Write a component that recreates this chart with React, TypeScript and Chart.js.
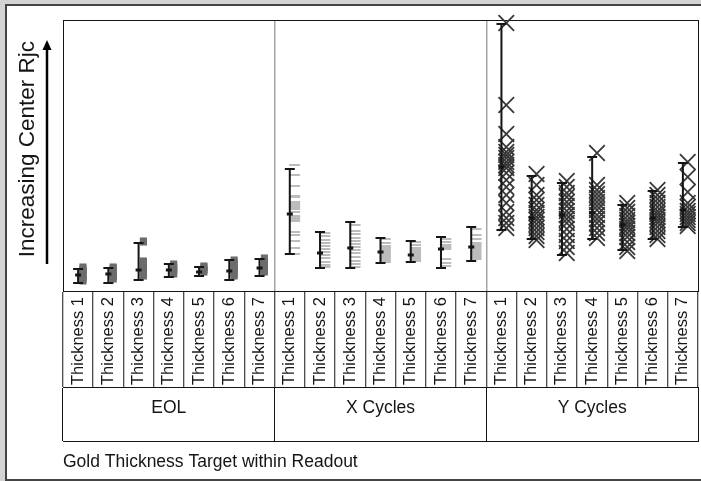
import React, { useEffect, useRef } from 'react';
import { Chart, registerables } from 'chart.js';

Chart.register(...registerables);

// ---------- data (arbitrary vertical units) ----------
const groupLabels = ['EOL', 'X Cycles', 'Y Cycles'];
const thicknessLabels = [
  'Thickness 1', 'Thickness 2', 'Thickness 3', 'Thickness 4',
  'Thickness 5', 'Thickness 6', 'Thickness 7',
];
const yAxisTitle = 'Increasing Center Rjc';
const xAxisTitle = 'Gold Thickness Target within Readout';

// range bars: min / mean / max per thickness
const eolMin = [8, 8, 11, 14, 15, 11, 15];
const eolMean = [16, 17, 21, 21, 19, 20, 23];
const eolMax = [22, 23, 48, 27, 24, 31, 32];

const xMin = [37, 23, 23, 28, 29, 23, 30];
const xMean = [77, 38, 43, 39, 36, 42, 44];
const xMax = [122, 59, 69, 53, 50, 54, 64];

const yMin = [61, 52, 36, 52, 41, 52, 64];
const yMean = [124, 73, 76, 78, 66, 73, 81];
const yMax = [267, 115, 108, 134, 86, 100, 128];

// individual readouts
const eolPoints = [
  [10, 12, 13, 15, 17, 19, 21, 22, 24],
  [12, 14, 15, 17, 19, 21, 23, 24],
  [15, 17, 19, 21, 23, 25, 27, 29, 30, 49, 50],
  [17, 19, 21, 23, 25, 27],
  [19, 21, 22, 24, 25],
  [15, 17, 20, 22, 24, 27, 29, 31],
  [19, 21, 23, 26, 28, 30, 33],
];
const xPoints = [
  [126, 116, 105, 95, 94, 89, 88, 86, 84, 82, 79, 75, 74, 72, 70, 59, 56, 50, 43, 37],
  [58, 55, 51, 48, 45, 42, 39, 36, 33, 29, 26, 24],
  [66, 60, 57, 53, 50, 47, 44, 41, 38, 34, 30, 27, 24],
  [52, 48, 45, 43, 41, 39, 37, 35, 33, 31, 29],
  [49, 46, 43, 41, 39, 37, 35, 33, 31, 30],
  [52, 49, 46, 44, 42, 32, 28, 25],
  [62, 56, 52, 48, 46, 44, 42, 40, 38, 36, 34, 32],
];
const yPoints = [
  [268, 186, 157, 144, 139, 136, 133, 129, 126, 123, 118, 111, 104, 96, 88, 79, 73, 68, 63],
  [117, 106, 96, 91, 86, 81, 78, 74, 71, 67, 63, 59, 55, 51],
  [110, 104, 98, 94, 89, 85, 80, 76, 72, 68, 62, 56, 50, 44, 38],
  [138, 106, 101, 97, 93, 89, 85, 81, 76, 72, 68, 63, 58, 53],
  [88, 83, 79, 75, 71, 68, 65, 62, 58, 54, 49, 44, 40],
  [101, 96, 92, 88, 84, 80, 77, 74, 71, 68, 64, 60, 56, 52],
  [129, 114, 99, 88, 84, 80, 77, 74, 71, 68, 65],
];

// ---------- styling constants ----------
const FONT = "'Liberation Sans', Arial, Helvetica, sans-serif";
const BAR_SHIFT = 0.5;
const MARK_SHIFT = 0.66;
const INK = '#151515';

Chart.defaults.font.family = FONT;

const axisNote = {
  id: 'axisNote',
  afterDraw(chart: any) {
    const { ctx, chartArea } = chart;
    const ax = chartArea.left - 16;
    const tip = chartArea.top + 20;
    ctx.save();
    ctx.strokeStyle = '#000';
    ctx.fillStyle = '#000';
    ctx.lineWidth = 2.5;
    ctx.beginPath();
    ctx.moveTo(ax, chartArea.bottom - 27);
    ctx.lineTo(ax, tip + 8);
    ctx.stroke();
    ctx.beginPath();
    ctx.moveTo(ax, tip);
    ctx.lineTo(ax - 4.5, tip + 10);
    ctx.lineTo(ax + 4.5, tip + 10);
    ctx.closePath();
    ctx.fill();
    ctx.translate(chartArea.left - 35, chartArea.top + 21);
    ctx.rotate(-Math.PI / 2);
    ctx.textAlign = 'right';
    ctx.textBaseline = 'middle';
    ctx.fillStyle = INK;
    ctx.font = `22.5px ${FONT}`;
    ctx.fillText(yAxisTitle, 0, 0);
    ctx.restore();
  },
};

const noSidePadding = (s: any) => {
  s.paddingLeft = 0;
  s.paddingRight = 0;
};

export default function App() {
  const ref = useRef<HTMLCanvasElement>(null);

  useEffect(() => {
    const mins = [eolMin, xMin, yMin];
    const means = [eolMean, xMean, yMean];
    const maxs = [eolMax, xMax, yMax];
    const barData: any[] = [];
    const capData: any[] = [];
    const meanData: any[] = [];
    for (let g = 0; g < 3; g++) {
      for (let i = 0; i < 7; i++) {
        const c = g * 7 + i + BAR_SHIFT;
        barData.push({ x: c, y: mins[g][i] }, { x: c, y: maxs[g][i] }, { x: c, y: null });
        capData.push({ x: c, y: mins[g][i] }, { x: c, y: maxs[g][i] });
        meanData.push({ x: c, y: means[g][i] });
      }
    }
    const marks = (pts: number[][], g: number) =>
      pts.flatMap((arr, i) => arr.map((v) => ({ x: g * 7 + i + MARK_SHIFT, y: v })));

    const chart = new Chart(ref.current as HTMLCanvasElement, {
      type: 'scatter',
      data: {
        datasets: [
          {
            label: 'caps', data: capData, pointStyle: 'line', pointRadius: 5,
            pointBorderWidth: 2, pointBorderColor: INK, order: 0,
          },
          {
            label: 'means', data: meanData, pointStyle: 'line', pointRadius: 3,
            pointBorderWidth: 3, pointBorderColor: INK, order: 0,
          },
          {
            label: 'range', data: barData, showLine: true, spanGaps: false,
            borderColor: INK, borderWidth: 2, pointRadius: 0, order: 1,
          },
          {
            label: 'EOL', data: marks(eolPoints, 0), pointStyle: 'rect', pointRadius: 5,
            pointBackgroundColor: '#6c6c6c', pointBorderWidth: 0, order: 5,
          },
          {
            label: 'X Cycles', data: marks(xPoints, 1), pointStyle: 'line', pointRadius: 5.5,
            pointBorderColor: '#bcbcbc', pointBorderWidth: 2, order: 5,
          },
          {
            label: 'Y Cycles', data: marks(yPoints, 2), pointStyle: 'crossRot', pointRadius: 11,
            pointBorderColor: '#383838', pointBorderWidth: 1.8, order: 5, clip: false,
          },
        ] as any,
      },
      options: {
        responsive: false,
        animation: false,
        devicePixelRatio: 1,
        events: [],
        layout: { autoPadding: false, padding: { left: 0, right: 3, top: 20, bottom: 0 } },
        plugins: { legend: { display: false }, tooltip: { enabled: false } },
        scales: {
          x: { type: 'linear', min: 0, max: 21, display: false },
          y: {
            type: 'linear', min: 0, max: 271, position: 'left',
            ticks: { display: false },
            grid: { display: true, color: 'transparent', drawTicks: false },
            border: { display: true, color: INK, width: 1 },
            afterFit: (s: any) => { s.width = 63; },
          },
          yr: {
            type: 'linear', axis: 'y', position: 'right',
            ticks: { display: false },
            grid: { display: true, drawOnChartArea: false, drawTicks: false },
            border: { display: true, color: INK, width: 1 },
            afterFit: (s: any) => { s.width = 0; },
          },
          xt: {
            type: 'linear', axis: 'x', position: 'top',
            ticks: { display: false },
            grid: { display: true, drawOnChartArea: false, drawTicks: false },
            border: { display: true, color: INK, width: 1 },
            afterFit: (s: any) => { s.height = 0; noSidePadding(s); },
          },
          xc: {
            type: 'category', axis: 'x', position: 'bottom',
            labels: thicknessLabels.concat(thicknessLabels, thicknessLabels),
            offset: true, weight: 1,
            grid: {
              display: true, offset: true, drawOnChartArea: true, drawTicks: true, tickLength: 96,
              color: (c: any) => (c.index === 7 || c.index === 14 ? '#a5a5a5' : 'transparent'),
              lineWidth: 1.5, tickColor: INK, tickWidth: 1,
            },
            border: { display: true, color: INK, width: 1 },
            ticks: {
              autoSkip: false, minRotation: 90, maxRotation: 90, padding: -90,
              color: INK, font: { size: 16.5, family: FONT },
            },
            afterFit: (s: any) => { s.height = 96; noSidePadding(s); },
          },
          xg: {
            type: 'category', axis: 'x', position: 'bottom', labels: groupLabels,
            offset: true, weight: 2,
            grid: {
              display: true, offset: true, drawOnChartArea: false, drawTicks: true, tickLength: 54,
              tickColor: INK, tickWidth: 1,
            },
            border: { display: true, color: INK, width: 1 },
            ticks: {
              autoSkip: false, minRotation: 0, maxRotation: 0, padding: -43,
              color: INK, font: { size: 17.5, family: FONT },
            },
            afterFit: (s: any) => { s.height = 54; noSidePadding(s); },
          },
          xtitle: {
            type: 'category', axis: 'x', position: 'bottom', labels: [''], weight: 3,
            grid: { display: true, drawOnChartArea: false, drawTicks: false, color: 'transparent' },
            border: { display: true, color: INK, width: 1 },
            ticks: { display: false },
            title: {
              display: true, text: xAxisTitle, align: 'start', color: INK,
              font: { size: 17.5, family: FONT }, padding: { top: 0, bottom: 8 },
            },
            afterFit: (s: any) => { s.height = 40; noSidePadding(s); },
          },
        } as any,
      },
      plugins: [axisNote],
    });
    return () => chart.destroy();
  }, []);

  return (
    <div style={{ position: 'fixed', left: 0, top: 0, width: 701, height: 481, background: '#d4d4d4', overflow: 'hidden' }}>
      <div style={{ position: 'absolute', left: 5, top: 4, width: 720, height: 473, background: '#fff', border: '2px solid #444' }} />
      <canvas ref={ref} width={701} height={481} style={{ position: 'absolute', left: 0, top: 0, width: 701, height: 481 }} />
    </div>
  );
}
